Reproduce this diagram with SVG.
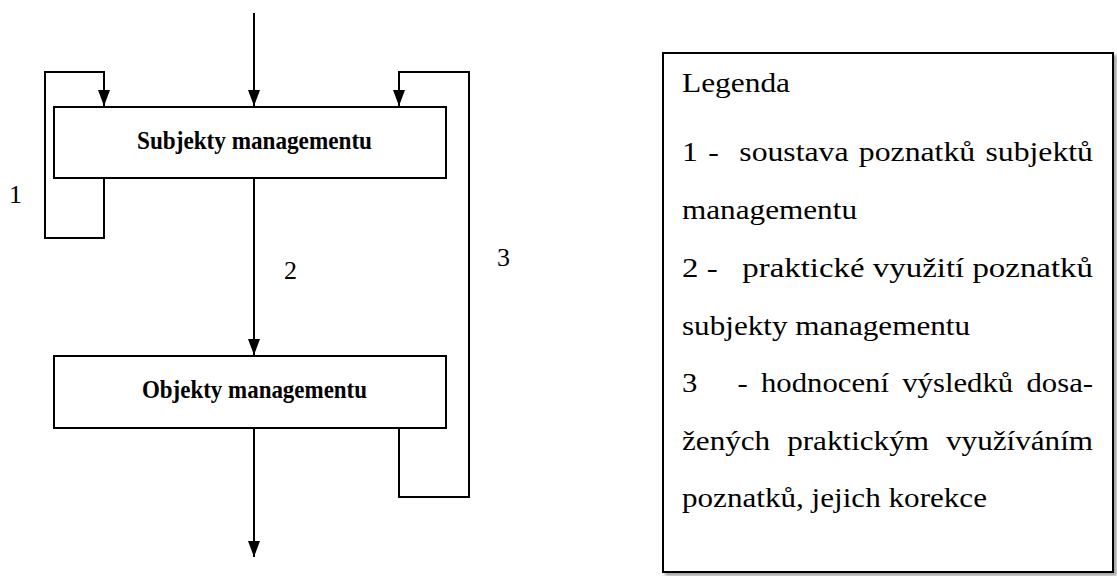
<svg xmlns="http://www.w3.org/2000/svg" width="1117" height="576" viewBox="0 0 1117 576">
  <style>
    .box { fill: #fff; stroke: #000; stroke-width: 2; }
    .line { fill: none; stroke: #000; stroke-width: 2; }
    .lbl { font-family: "Liberation Serif", "Times New Roman", serif; font-weight: bold; font-size: 26px; fill: #000; }
    .num { font-family: "Liberation Serif", "Times New Roman", serif; font-size: 26px; fill: #000; }
    .leg { font-family: "Liberation Serif", "Times New Roman", serif; font-size: 27px; fill: #000; white-space: pre; }
  </style>
  <defs>
    <marker id="arr" viewBox="0 0 16 12" refX="16" refY="6" markerWidth="16" markerHeight="12" markerUnits="userSpaceOnUse" orient="auto">
      <path d="M0,0 L16,6 L0,12 Z" fill="#000"/>
    </marker>
    <filter id="shadow" x="-5%" y="-5%" width="115%" height="115%">
      <feDropShadow dx="3" dy="3" stdDeviation="1.5" flood-color="#000" flood-opacity="0.35"/>
    </filter>
  </defs>
  <rect width="1117" height="576" fill="#fff"/>

  <g id="connectors">
    <path class="line" d="M254,13 L254,106" marker-end="url(#arr)"/>
    <path class="line" d="M104,178 L104,238 L45,238 L45,72 L104,72 L104,106" marker-end="url(#arr)"/>
    <path class="line" d="M254,178 L254,355" marker-end="url(#arr)"/>
    <path class="line" d="M399,428 L399,497 L469,497 L469,72 L399,72 L399,106" marker-end="url(#arr)"/>
    <path class="line" d="M254,428 L254,557" marker-end="url(#arr)"/>
    <text class="num" x="9" y="203">1</text>
    <text class="num" x="284" y="279">2</text>
    <text class="num" x="497" y="266">3</text>
  </g>

  <g id="subjekty">
    <rect class="box" x="54" y="107" width="392" height="71"/>
    <text class="lbl" x="137" y="149" textLength="235" lengthAdjust="spacingAndGlyphs">Subjekty managementu</text>
  </g>

  <g id="objekty">
    <rect class="box" x="54" y="356" width="392" height="72"/>
    <text class="lbl" x="142" y="398" textLength="225" lengthAdjust="spacingAndGlyphs">Objekty managementu</text>
  </g>

  <g id="legenda">
    <rect class="box" x="663" y="53" width="450" height="519" filter="url(#shadow)"/>
    <text class="leg" x="682" y="92" textLength="108" lengthAdjust="spacingAndGlyphs">Legenda</text>
    <text class="leg" x="682" y="161" textLength="411" lengthAdjust="spacingAndGlyphs" word-spacing="2">1 -  soustava poznatků subjektů</text>
    <text class="leg" x="682" y="219" textLength="175" lengthAdjust="spacingAndGlyphs">managementu</text>
    <text class="leg" x="682" y="277" textLength="411" lengthAdjust="spacingAndGlyphs">2 -   praktické využití poznatků</text>
    <text class="leg" x="682" y="335" textLength="288" lengthAdjust="spacingAndGlyphs">subjekty managementu</text>
    <text class="leg" x="682" y="392" textLength="411" lengthAdjust="spacingAndGlyphs" word-spacing="5">3   - hodnocení výsledků dosa-</text>
    <text class="leg" x="682" y="450" textLength="411" lengthAdjust="spacingAndGlyphs" word-spacing="8">žených praktickým využíváním</text>
    <text class="leg" x="682" y="507" textLength="305" lengthAdjust="spacingAndGlyphs">poznatků, jejich korekce</text>
  </g>
</svg>
